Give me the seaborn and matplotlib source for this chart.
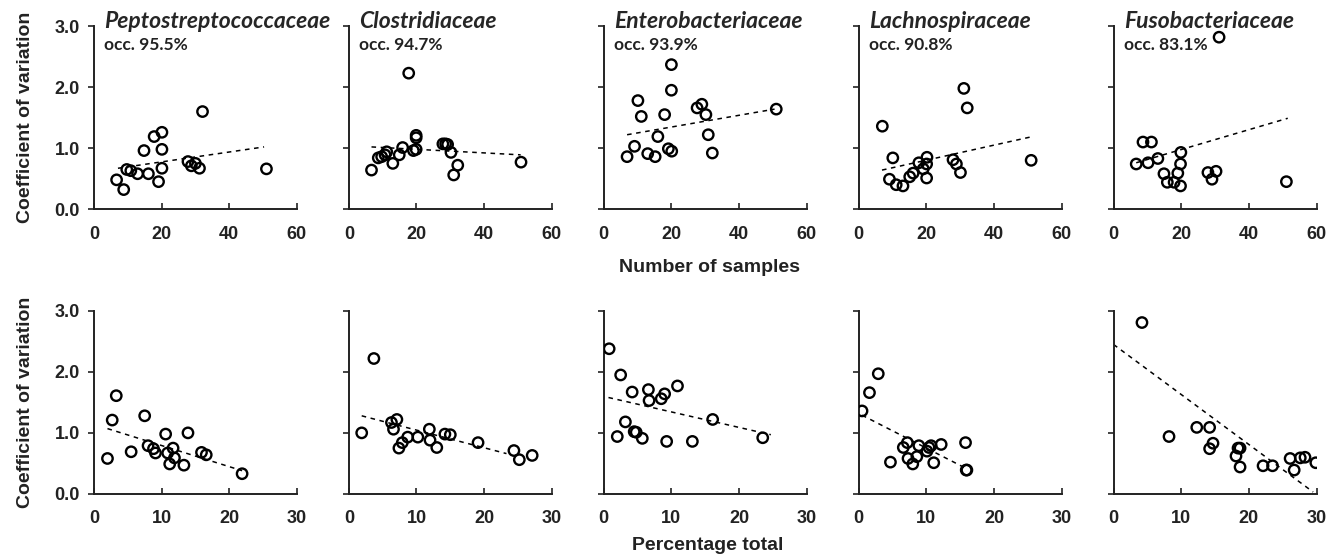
import numpy as np
import matplotlib
matplotlib.use("Agg")
import matplotlib.pyplot as plt
import matplotlib.ticker as ticker
import seaborn as sns

sns.set_style("white")
plt.rcParams['font.family'] = ['Liberation Sans', 'DejaVu Sans']
plt.rcParams['font.weight'] = 'bold'
plt.rcParams['xtick.labelsize'] = 13
plt.rcParams['ytick.labelsize'] = 13

families = ["Peptostreptococcaceae", "Clostridiaceae", "Enterobacteriaceae",
            "Lachnospiraceae", "Fusobacteriaceae"]
occurrence = ["occ. 95.5%", "occ. 94.7%", "occ. 93.9%", "occ. 90.8%", "occ. 83.1%"]

# top row: number of samples vs coefficient of variation
samples_x = [
    [6.7, 8.8, 9.7, 10.9, 12.9, 14.8, 16.1, 17.8, 19.1, 20.1, 20.1, 20.1, 27.8, 28.8, 30.0, 31.2, 32.1, 51.0],
    [6.7, 8.7, 9.7, 10.7, 11.2, 13.0, 14.9, 15.9, 17.7, 19.1, 19.9, 19.9, 19.9, 27.8, 29.2, 28.6, 30.2, 31.0, 32.2, 50.9],
    [6.9, 9.1, 10.1, 11.1, 13.0, 15.2, 16.0, 18.0, 19.1, 20.1, 20.0, 20.0, 27.6, 29.0, 30.2, 30.9, 32.1, 51.0],
    [7.0, 10.1, 9.1, 11.1, 13.1, 15.1, 16.1, 17.8, 19.1, 20.2, 20.1, 20.1, 27.9, 28.9, 30.1, 31.1, 32.1, 51.0],
    [6.7, 8.7, 10.2, 11.2, 13.1, 14.9, 15.9, 17.9, 19.0, 19.8, 19.8, 19.9, 27.9, 29.1, 30.3, 31.2, 51.1],
]
samples_cv = [
    [0.48, 0.32, 0.65, 0.63, 0.58, 0.96, 0.58, 1.19, 0.45, 1.26, 0.98, 0.67, 0.78, 0.71, 0.75, 0.67, 1.60, 0.66],
    [0.64, 0.84, 0.86, 0.89, 0.94, 0.75, 0.89, 1.01, 2.23, 0.96, 0.98, 1.21, 1.17, 1.07, 1.06, 1.07, 0.93, 0.56, 0.72, 0.77],
    [0.86, 1.03, 1.78, 1.52, 0.91, 0.86, 1.19, 1.55, 0.99, 0.95, 2.37, 1.95, 1.66, 1.72, 1.55, 1.22, 0.92, 1.64],
    [1.36, 0.84, 0.49, 0.40, 0.38, 0.53, 0.59, 0.76, 0.66, 0.85, 0.74, 0.51, 0.81, 0.74, 0.60, 1.98, 1.66, 0.80],
    [0.74, 1.10, 0.76, 1.10, 0.83, 0.58, 0.44, 0.44, 0.59, 0.38, 0.74, 0.93, 0.60, 0.49, 0.62, 2.82, 0.45],
]
samples_trend_x = [[7.1, 50.3], [6.7, 50.8], [6.9, 50.5], [6.9, 51.4], [6.7, 51.5]]
samples_trend_y = [[0.67, 1.02], [1.02, 0.89], [1.22, 1.64], [0.64, 1.19], [0.76, 1.49]]

# bottom row: percentage total vs coefficient of variation
percent_x = [
    [2.0, 2.7, 3.3, 5.5, 7.5, 8.0, 8.8, 9.1, 10.6, 10.9, 11.2, 11.7, 11.9, 13.3, 13.9, 15.9, 16.6, 21.9],
    [1.9, 3.7, 6.3, 7.1, 6.6, 7.4, 7.9, 8.7, 10.2, 11.9, 12.0, 13.0, 14.2, 15.0, 19.1, 24.4, 25.2, 27.1],
    [0.8, 2.0, 2.5, 3.2, 4.2, 4.5, 4.8, 5.7, 6.6, 6.7, 8.5, 9.0, 9.3, 10.9, 13.1, 16.1, 23.5],
    [0.5, 1.6, 2.9, 4.7, 6.6, 7.2, 7.3, 8.0, 8.6, 8.9, 10.1, 10.4, 10.7, 11.1, 12.2, 15.8, 15.9, 16.0],
    [4.2, 8.2, 12.3, 14.2, 14.7, 14.2, 18.1, 18.4, 18.7, 18.7, 22.1, 23.5, 26.1, 26.7, 27.6, 28.3, 29.9],
]
percent_cv = [
    [0.58, 1.21, 1.61, 0.69, 1.28, 0.79, 0.74, 0.67, 0.98, 0.67, 0.49, 0.75, 0.59, 0.47, 1.00, 0.68, 0.64, 0.33],
    [1.00, 2.22, 1.17, 1.22, 1.06, 0.75, 0.84, 0.93, 0.93, 1.06, 0.88, 0.76, 0.98, 0.97, 0.84, 0.71, 0.56, 0.63],
    [2.38, 0.94, 1.95, 1.18, 1.67, 1.02, 1.01, 0.91, 1.71, 1.53, 1.56, 1.64, 0.86, 1.77, 0.86, 1.22, 0.92],
    [1.36, 1.66, 1.97, 0.52, 0.76, 0.84, 0.58, 0.49, 0.61, 0.79, 0.70, 0.76, 0.79, 0.51, 0.81, 0.84, 0.39, 0.39],
    [2.81, 0.94, 1.09, 1.09, 0.83, 0.74, 0.62, 0.75, 0.75, 0.44, 0.46, 0.46, 0.58, 0.39, 0.59, 0.60, 0.51],
]
percent_trend_x = [[2.0, 21.9], [1.9, 23.3], [0.7, 24.7], [0.5, 16.0], [0.0, 29.5]]
percent_trend_y = [[1.07, 0.38], [1.28, 0.66], [1.58, 0.97], [1.29, 0.41], [2.45, 0.03]]

fig, axes = plt.subplots(2, 5, figsize=(13.42, 5.58), dpi=100)
fig.subplots_adjust(left=0.070, right=0.981, top=0.953, bottom=0.115,
                    wspace=0.256, hspace=0.557)


def draw_panel(ax, xs, ys, tx, ty, xmax, xstep):
    sns.scatterplot(x=xs, y=ys, ax=ax, s=56, facecolors='none',
                    edgecolor='black', linewidth=1.7, zorder=3)
    sns.lineplot(x=tx, y=ty, ax=ax, color='black', linestyle=(0, (3, 3)),
                 linewidth=1.1, zorder=2)
    ax.set_xlim(0, xmax)
    ax.set_ylim(0, 3)
    ax.xaxis.set_major_locator(ticker.MultipleLocator(xstep))
    ax.yaxis.set_major_locator(ticker.MultipleLocator(1))
    ax.yaxis.set_major_formatter(ticker.FormatStrFormatter('%.1f'))
    for s in ['top', 'right']:
        ax.spines[s].set_visible(False)
    for s in ['left', 'bottom']:
        ax.spines[s].set_linewidth(1.4)
        ax.spines[s].set_color('#222222')
    ax.tick_params(axis='x', direction='in', length=4, width=1.2, pad=12, bottom=True,
                   colors='#222222')
    ax.tick_params(axis='y', direction='out', length=4, width=1.2, pad=6, left=True,
                   colors='#222222')
    ax.set_xlabel('')
    ax.set_ylabel('')


for i in range(5):
    ax = axes[0, i]
    draw_panel(ax, samples_x[i], samples_cv[i], samples_trend_x[i], samples_trend_y[i], 60, 20)
    ax.text(0.05, 0.99, families[i], transform=ax.transAxes, ha='left', va='baseline',
            fontsize=16.5, fontweight='bold', fontstyle='italic', family=['Lato', 'DejaVu Sans'])
    ax.text(0.05, 0.895, occurrence[i], transform=ax.transAxes, ha='left', va='center',
            fontsize=12.5, fontweight='bold', family=['Lato', 'DejaVu Sans'], color='#222222')

    ax2 = axes[1, i]
    draw_panel(ax2, percent_x[i], percent_cv[i], percent_trend_x[i], percent_trend_y[i], 30, 10)

    if i > 0:
        ax.tick_params(axis='y', labelleft=False)
        ax2.tick_params(axis='y', labelleft=False)

for row in range(2):
    axes[row, 0].set_ylabel('Coefficient of variation', fontsize=14, fontweight='bold',
                            labelpad=15, color='#222222')

fig.text(0.529, 0.521, 'Number of samples', ha='center', va='center',
         fontsize=14, fontweight='bold', color='#222222')
fig.text(0.527, 0.023, 'Percentage total', ha='center', va='center',
         fontsize=14, fontweight='bold', color='#222222')

fig.savefig('out.png', dpi=100)
